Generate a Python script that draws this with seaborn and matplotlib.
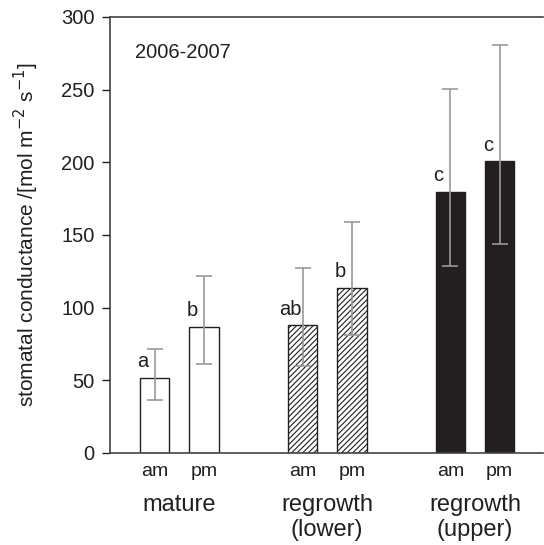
import numpy as np
import pandas as pd
import matplotlib
matplotlib.use("Agg")
import matplotlib.pyplot as plt
import seaborn as sns

# data
groups = ["mature", "regrowth\n(lower)", "regrowth\n(upper)"]
times = ["am", "pm", "am", "pm", "am", "pm"]
positions = [0, 1, 3, 4, 6, 7]
means = [51.6, 86.7, 87.7, 113.5, 179.6, 200.7]
err_high = [71.8, 121.6, 126.9, 158.7, 250.7, 280.4]
err_low = [36.7, 61.5, 60.1, 80.8, 128.5, 143.4]
letters = ["a", "b", "ab", "b", "c", "c"]

df = pd.DataFrame({"pos": positions, "val": means, "time": times})

sns.set_style("ticks")
plt.rcParams["font.family"] = ["Liberation Sans", "DejaVu Sans"]
plt.rcParams["hatch.linewidth"] = 0.8

fig = plt.figure(figsize=(5.44, 5.45), dpi=100)
ax = fig.add_axes([0.202, 0.169, 0.796, 0.8])

sns.barplot(data=df, x="pos", y="val", native_scale=True, width=0.6,
            color="white", edgecolor="#231f20", linewidth=1.0, errorbar=None, ax=ax)

# bar styles per group
for i, p in enumerate(ax.patches):
    if i in (2, 3):
        p.set_facecolor("white")
        p.set_hatch("//////")
    elif i in (4, 5):
        p.set_facecolor("#231f20")

lo = np.array(means) - np.array(err_low)
hi = np.array(err_high) - np.array(means)
ax.errorbar(positions, means, yerr=[lo, hi], fmt="none", ecolor="#999999",
            elinewidth=1.2, capsize=5.8, capthick=1.2, zorder=5)

# significance letters
for x, m, t in zip(positions, means, letters):
    ax.text(x - 0.24, m + 4.5, t, ha="center", va="bottom", fontsize=14.5, color="#231f20")

ax.text(0.058, 0.905, "2006-2007", transform=ax.transAxes, fontsize=14.5,
        va="baseline", color="#231f20")

ax.set_ylim(0, 300)
ax.set_xlim(-0.91, 7.88)
ax.set_yticks([0, 50, 100, 150, 200, 250, 300])
ax.set_xticks(positions)
ax.set_xticklabels(times)
ax.tick_params(axis="x", length=0, pad=7, labelsize=14, colors="#231f20")
ax.tick_params(axis="y", direction="out", length=6, width=1.0, pad=5, labelsize=14.5,
               colors="#231f20")
ax.set_xlabel("")
ax.set_ylabel("stomatal conductance /[mol m$^{-2}$ s$^{-1}$]", fontsize=15,
              color="#231f20")
ax.yaxis.set_label_coords(-0.158, 0.5)

# group labels under the am/pm pairs
for g, c in zip(groups, [0.5, 3.5, 6.5]):
    ax.text(c, -0.095, g, transform=ax.get_xaxis_transform(), ha="center", va="top",
            fontsize=17, color="#231f20", linespacing=1.15)

ax.spines["right"].set_visible(False)
for s in ["left", "bottom", "top"]:
    ax.spines[s].set_color("#444444")
    ax.spines[s].set_linewidth(1.2)

fig.savefig("out.png", dpi=100)
